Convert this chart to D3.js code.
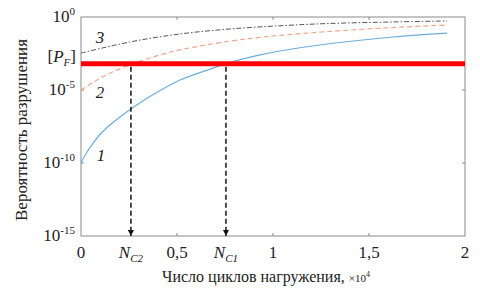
<!DOCTYPE html>
<html><head><meta charset="utf-8">
<script src="https://cdn.jsdelivr.net/npm/d3@7"></script>
<style>html,body{margin:0;padding:0;background:#fff;}svg{display:block;}</style>
</head><body>
<svg id="c" width="480" height="295"></svg>
<script>
// Data (x in units of 10^4 cycles, y as log10 of failure probability)
const xTicks = [0, 0.5, 1, 1.5, 2];
const xTickLabels = ["0", "0,5", "1", "1,5", "2"];
const yTickExps = [0, -5, -10, -15];
const curve1X = [0, 0.031, 0.0625, 0.099, 0.151, 0.203, 0.26, 0.359, 0.516, 0.6875, 0.755, 0.932, 1.036, 1.281, 1.625, 1.906];
const curve1Log = [-10, -9.25, -8.65, -8.05, -7.40, -6.85, -6.30, -5.45, -4.32, -3.50, -3.20, -2.60, -2.33, -1.85, -1.37, -1.10];
const curve2X = [0, 0.073, 0.151, 0.271, 0.411, 0.516, 0.776, 0.932, 1.036, 1.281, 1.625, 1.906];
const curve2Log = [-5.0, -4.40, -3.85, -3.20, -2.60, -2.25, -1.65, -1.40, -1.26, -1.00, -0.72, -0.55];
const curve3X = [0, 0.255, 0.516, 0.776, 1.036, 1.281, 1.625, 1.906];
const curve3Log = [-2.47, -1.71, -1.16, -0.82, -0.60, -0.45, -0.34, -0.27];
const pfLog = -3.2;
const NC2 = 0.26, NC1 = 0.755;

const svg = d3.select("#c");
const L = 81, R = 465, T = 17, B = 236;
const x = d3.scaleLinear().domain([0, 2]).range([L, R]);
const y = d3.scaleLog().domain([1e-15, 1]).range([B, T]);
const font = "'Liberation Serif', 'Times New Roman', serif";
const axisCol = "#8a8a8a";
const fs = 17;

// frame
svg.append("rect").attr("x", L).attr("y", T).attr("width", R - L).attr("height", B - T)
  .attr("fill", "none").attr("stroke", axisCol).attr("stroke-width", 1);

// inward ticks
const tl = 3;
[0.5, 1, 1.5].forEach(v => {
  svg.append("line").attr("x1", x(v)).attr("x2", x(v)).attr("y1", B).attr("y2", B - tl).attr("stroke", axisCol);
  svg.append("line").attr("x1", x(v)).attr("x2", x(v)).attr("y1", T).attr("y2", T + tl).attr("stroke", axisCol);
});
[-5, -10].forEach(e => {
  svg.append("line").attr("x1", L).attr("x2", L + tl).attr("y1", y(Math.pow(10, e))).attr("y2", y(Math.pow(10, e))).attr("stroke", axisCol);
  svg.append("line").attr("x1", R).attr("x2", R - tl).attr("y1", y(Math.pow(10, e))).attr("y2", y(Math.pow(10, e))).attr("stroke", axisCol);
});

// curves
const line = d3.line().x(d => x(d[0])).y(d => y(Math.pow(10, d[1]))).curve(d3.curveCatmullRom.alpha(0.5));
const z = (a, b) => a.map((v, i) => [v, b[i]]);
svg.append("path").attr("d", line(z(curve3X, curve3Log))).attr("fill", "none")
  .attr("stroke", "#555").attr("stroke-width", 1).attr("stroke-dasharray", "5,2,1.5,2");
svg.append("path").attr("d", line(z(curve2X, curve2Log))).attr("fill", "none")
  .attr("stroke", "#f2a58a").attr("stroke-width", 1.2).attr("stroke-dasharray", "5,3");
svg.append("path").attr("d", line(z(curve1X, curve1Log))).attr("fill", "none")
  .attr("stroke", "#6aaedb").attr("stroke-width", 1.2);

// red threshold line
svg.append("line").attr("x1", L).attr("x2", R).attr("y1", y(Math.pow(10, pfLog))).attr("y2", y(Math.pow(10, pfLog)))
  .attr("stroke", "#ff0000").attr("stroke-width", 5);

// dashed arrows
svg.append("defs").append("marker").attr("id", "ah").attr("viewBox", "0 0 10 10").attr("refX", 10).attr("refY", 5)
  .attr("markerWidth", 4).attr("markerHeight", 4).attr("orient", "auto")
  .append("path").attr("d", "M0,0L10,5L0,10Z").attr("fill", "#111");
[NC2, NC1].forEach(v => {
  svg.append("line").attr("x1", x(v)).attr("x2", x(v)).attr("y1", y(Math.pow(10, pfLog)) + 3).attr("y2", B)
    .attr("stroke", "#111").attr("stroke-width", 1.5).attr("stroke-dasharray", "5,3").attr("marker-end", "url(#ah)");
});

// x tick labels
xTicks.forEach((v, i) => {
  svg.append("text").attr("x", x(v)).attr("y", 258).attr("text-anchor", "middle")
    .attr("font-family", font).attr("font-size", fs).attr("fill", "#222").text(xTickLabels[i]);
});
function nLabel(v, sub) {
  const t = svg.append("text").attr("x", x(v)).attr("y", 258).attr("text-anchor", "middle")
    .attr("font-family", font).attr("font-size", fs).attr("fill", "#222");
  t.append("tspan").attr("font-style", "italic").text("N");
  t.append("tspan").attr("font-style", "italic").attr("font-size", 11).attr("dy", 4).text(sub);
}
nLabel(NC2, "C2");
nLabel(NC1, "C1");

// y tick labels
yTickExps.forEach(e => {
  const t = svg.append("text").attr("x", 75).attr("y", y(Math.pow(10, e)) + 5).attr("text-anchor", "end")
    .attr("font-family", font).attr("font-size", fs).attr("fill", "#222");
  t.append("tspan").text("10");
  t.append("tspan").attr("font-size", 11).attr("dy", -7).text(String(e));
});

// [P_F] label
const pf = svg.append("text").attr("x", 76).attr("y", y(Math.pow(10, pfLog)) - 2).attr("text-anchor", "end")
  .attr("font-family", font).attr("font-size", fs).attr("fill", "#222");
pf.append("tspan").text("[");
pf.append("tspan").attr("font-style", "italic").text("P");
pf.append("tspan").attr("font-style", "italic").attr("font-size", 11).attr("dy", 4).text("F");
pf.append("tspan").attr("dy", -4).text("]");

// curve number labels
[["3", 100, 43], ["2", 100, 98], ["1", 101, 161]].forEach(d => {
  svg.append("text").attr("x", d[1]).attr("y", d[2]).attr("text-anchor", "middle")
    .attr("font-family", font).attr("font-size", 17).attr("font-style", "italic").attr("fill", "#222").text(d[0]);
});

// axis titles
const xt = svg.append("text").attr("x", 266).attr("y", 282).attr("text-anchor", "middle")
  .attr("font-family", font).attr("font-size", 16).attr("fill", "#222");
xt.append("tspan").text("Число циклов нагружения, ");
xt.append("tspan").attr("font-size", 11).text("×10");
xt.append("tspan").attr("font-size", 8).attr("dy", -5).text("4");

svg.append("text").attr("transform", "translate(27,130) rotate(-90)").attr("text-anchor", "middle")
  .attr("font-family", font).attr("font-size", 17).attr("fill", "#222").text("Вероятность разрушения");
</script>
</body></html>
